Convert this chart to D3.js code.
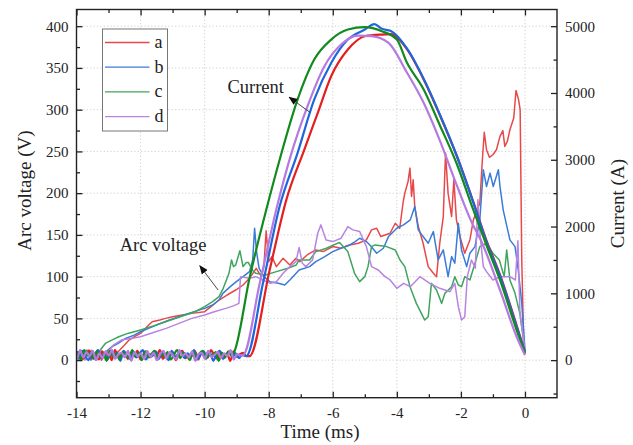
<!DOCTYPE html>
<html>
<head>
<meta charset="utf-8">
<script src="https://cdn.jsdelivr.net/npm/d3@7"></script>
<style>
  body { margin: 0; background: #fff; }
  text { font-family: "Liberation Serif", "Times New Roman", serif; fill: #222; }
</style>
</head>
<body>
<script>
'use strict';

// series names used in the legend
const seriesNames = ["a", "b", "c", "d"];
const voltColors = ["#e8484a", "#3a7bd8", "#3fa45e", "#b884e2"];
const currColors = ["#e51f1f", "#1f66dc", "#138a1f", "#b57ae0"];

// pre-arc noise, sampled every 0.1 ms from each start time (read as a band ~0-12 V / 0-150 A)
const voltBaseStart = [-14.015, -14.045, -14.075, -14.035];
const voltBase = [
  [3, 9, 1, 8, 12, 2, 7, 10, 0, 6, 11, 4, 9],
  [8, 2, 11, 4, 9, 0, 7, 12, 3],
  [5, 10, 1, 8, 12, 3, 9, 2],
  [10, 3, 9, 0, 7, 12, 2, 8, 11, 4]
];
const currBaseStart = [-14, -14.03, -14.06, -14.09];
const currBase = [
  [60,120,20,90,140,30,80,10,130,70,110,0,150,50,90,120,20,100,60,140,10,80,130,40,110,70,150,20,90,50,
   120,0,100,140,30,80,60,130,10,110,90,40,150,70,20,120,60,100,-10,130,50,90,110,60],
  [100,20,140,60,0,120,80,150,30,90,10,130,50,110,-10,140,70,20,120,40,100,150,10,90,60,130,20,110,70,0,
   140,50,90,120,30,100,60,150,10,80,130,40,110,-10,90,140,20,70,120,50,100,30,80],
  [40,120,0,150,70,110,20,130,50,90,-10,140,60,100,10,120,80,30,150,50,110,0,130,40,90,140,20,100,60,120,
   10,80,150,30,110,70,0,130,50,100,140,20,90,60,120,-10,110,40,130,70],
  [80,10,150,40,120,60,140,0,100,30,130,70,150,20,90,110,40,140,-10,120,60,100,20,130,50,110,0,90,140,30,
   120,70,10,150,60,100,40,130,-10,90,110,20,140,50,80,120,30,100,60,150,10,90,70]
];

// arc voltage after arc ignition [time ms, volts]
const voltA = [[-12.7,10],[-12.5,18],[-12.36,24],
  [-12.2,28],[-12,32],[-11.8,40],[-11.64,46],[-11.4,48],[-11.22,50],[-11,52],[-10.7,54],[-10.4,56],[-10,58],
  [-9.8,64],[-9.55,72],[-9.3,78],[-9.03,84],[-8.8,90],[-8.6,98],[-8.39,110],[-8.23,100],[-8.15,112],[-8.08,155],
  [-8,118],[-7.9,124],[-7.76,112],[-7.55,122],[-7.34,114],[-7.15,122],[-7.03,118],[-6.8,126],[-6.53,132],[-6.3,130],
  [-6,136],[-5.75,134],[-5.47,138],[-5.2,140],[-4.95,144],[-4.79,156],[-4.63,158],[-4.5,148],[-4.21,152],[-4.05,164],
  [-3.91,158],[-3.8,190],[-3.75,200],[-3.65,214],[-3.59,230],[-3.54,196],[-3.49,216],[-3.44,184],[-3.33,160],[-3.18,140],
  [-3.02,112],[-2.86,104],[-2.76,100],[-2.66,140],[-2.55,172],[-2.48,248],[-2.4,200],[-2.29,172],[-2.22,216],[-2.14,168],
  [-2.03,148],[-1.88,128],[-1.72,144],[-1.61,168],[-1.41,188],[-1.33,240],[-1.27,273],[-1.2,252],[-1.11,243],[-1,246],
  [-0.89,252],[-0.78,268],[-0.69,275],[-0.63,256],[-0.55,262],[-0.47,276],[-0.35,290],[-0.28,323],[-0.2,312],[-0.15,300],
  [-0.1,120],[-0.04,20],[0,8]];

const voltB = [[-13.15,8],[-12.9,16],[-12.7,20],[-12.47,26],[-12.2,30],
  [-12,34],[-11.75,38],[-11.5,42],[-11.1,48],[-10.8,52],[-10.5,56],[-10,62],[-9.75,66],[-9.55,72],[-9.43,80],
  [-9.2,88],[-9.01,94],[-8.8,100],[-8.6,106],[-8.5,120],[-8.44,158],[-8.38,130],[-8.3,110],[-8.15,100],[-7.97,94],
  [-7.7,92],[-7.5,90],[-7.34,96],[-7.05,108],[-6.72,112],[-6.53,118],[-6.25,124],[-6,130],[-5.75,134],[-5.47,138],
  [-5.3,142],[-5.16,146],[-4.95,142],[-4.8,136],[-4.63,128],[-4.42,134],[-4.26,148],[-4,158],[-3.79,162],[-3.58,168],
  [-3.44,184],[-3.33,156],[-3.18,148],[-3.02,140],[-2.86,154],[-2.71,120],[-2.55,132],[-2.4,100],[-2.29,124],[-2.19,116],
  [-2.08,164],[-1.98,132],[-1.82,112],[-1.72,128],[-1.56,136],[-1.41,168],[-1.3,228],[-1.2,208],[-1.09,224],[-0.99,208],
  [-0.83,228],[-0.78,208],[-0.68,180],[-0.47,144],[-0.31,136],[-0.21,108],[-0.1,68],[0,12]];

const voltC = [[-13.3,10],[-13.1,20],[-12.9,24],[-12.68,28],[-12.4,32],[-12,36],
  [-11.6,41],[-11.22,46],[-10.9,50],[-10.6,54],[-10.3,58],[-10,64],[-9.75,70],[-9.55,76],[-9.42,86],[-9.32,96],
  [-9.24,104],[-9.16,120],[-9.1,112],[-9.03,114],[-8.9,131],[-8.8,112],[-8.7,117],[-8.64,117],[-8.49,107],[-8.4,104],
  [-8.1,102],[-7.76,106],[-7.4,110],[-7.14,114],[-7.05,120],[-6.72,120],[-6.53,130],[-6.2,134],[-5.79,141],[-5.53,130],
  [-5.32,104],[-5.16,94],[-5,100],[-4.9,112],[-4.79,136],[-4.68,138],[-4.32,136],[-4.05,132],[-3.9,120],[-3.75,112],
  [-3.59,88],[-3.39,68],[-3.13,48],[-3.02,52],[-2.92,92],[-2.76,84],[-2.6,68],[-2.5,80],[-2.29,88],[-2.19,100],
  [-2.08,90],[-1.98,88],[-1.88,100],[-1.72,96],[-1.56,116],[-1.41,136],[-1.2,140],[-1,128],[-0.8,120],[-0.65,100],
  [-0.57,132],[-0.47,96],[-0.31,80],[-0.16,56],[-0.06,28],[0,8]];

const voltD = [[-13,10],[-12.85,18],[-12.6,24],[-12.3,26],[-12,28],
  [-11.6,33],[-11.2,38],[-10.8,44],[-10.4,50],[-10,54],[-9.7,58],[-9.34,62],[-9.1,65],[-8.93,68],[-8.88,100],
  [-8.6,98],[-8.4,100],[-8.18,96],[-7.95,92],[-7.76,94],[-7.55,104],[-7.34,112],[-7.15,118],[-7.05,135],[-6.95,116],
  [-6.84,112],[-6.63,120],[-6.47,152],[-6.37,162],[-6.21,144],[-6,142],[-5.74,146],[-5.53,160],[-5.37,156],[-5.16,154],
  [-4.95,136],[-4.79,112],[-4.58,108],[-4.37,100],[-4.21,96],[-4,86],[-3.79,92],[-3.58,88],[-3.28,100],[-2.97,92],
  [-2.66,86],[-2.34,82],[-2.19,92],[-2.08,64],[-1.98,48],[-1.88,52],[-1.8,100],[-1.67,120],[-1.55,110],[-1.47,192],
  [-1.4,150],[-1.3,112],[-1.2,106],[-1,96],[-0.78,100],[-0.47,100],[-0.3,96],[-0.22,143],[-0.16,60],[-0.1,40],
  [-0.05,28],[0,8]];

// current after arc ignition [time ms, amps]
const currA = [[-8.6,60],[-7.97,1350],[-7.45,2400],
  [-6.89,3150],[-6.47,3700],[-6.05,4250],[-5.53,4650],[-5,4850],[-4.47,4875],[-4.2,4880],[-3.69,4660],[-3.17,4210],[-2.65,3660],
  [-2.13,3060],[-1.62,2380],[-1.2,1790],[-0.78,1280],[-0.26,520],[0,120]];

const currB = [[-8.7,60],[-8.18,1150],[-7.66,2300],
  [-7.1,3100],[-6.58,3900],[-6.05,4450],[-5.53,4800],[-5,4950],[-4.7,5030],[-4.47,4960],[-4.2,4930],[-3.69,4670],[-3.17,4220],
  [-2.65,3670],[-2.13,3060],[-1.62,2370],[-1.2,1770],[-0.78,1260],[-0.26,500],[0,120]];

const currC = [[-9.1,100],[-8.59,1250],[-8.05,2300],[-7.63,3050],[-7.1,3900],
  [-6.58,4500],[-6.05,4800],[-5.53,4950],[-5,4985],[-4.47,4925],[-4,4800],[-3.69,4460],[-3.17,4060],[-2.65,3510],[-2.13,2940],
  [-1.62,2260],[-1.2,1720],[-0.78,1200],[-0.26,450],[0,100]];

const currD = [[-8.8,75],[-8.28,1150],[-7.74,2300],[-7.32,3050],
  [-6.79,3800],[-6.26,4400],[-5.74,4725],[-5.21,4860],[-4.79,4850],[-4.26,4750],[-3.69,4310],[-3.17,3860],[-2.65,3280],
  [-2.13,2620],[-1.62,2020],[-1.41,1830],[-0.78,1050],[-0.26,350],[0,75]];

// axis ticks
const timeTicks = [-14, -12, -10, -8, -6, -4, -2, 0];
const timeMinor = [-13, -11, -9, -7, -5, -3, -1];
const voltTicks = [0, 50, 100, 150, 200, 250, 300, 350, 400];
const voltMinor = [-25, 25, 75, 125, 175, 225, 275, 325, 375];
const currTicks = [0, 1000, 2000, 3000, 4000, 5000];
const currMinor = [-500, 500, 1500, 2500, 3500, 4500];

// annotations: text anchor and arrow [from, to] in data units (time, volts)
const annotations = [
  { text: "Current", at: [-9.29, 320], arrow: [[-6.72, 297], [-7.36, 315]] },
  { text: "Arc voltage", at: [-12.65, 131], arrow: [[-9.58, 84], [-10.15, 113]] }
];

// join the sampled noise band and the read trace
function withBase(start, values, trace) {
  const base = values.map((v, k) => [start + k * 0.1, v]);
  return base.concat(trace);
}

const voltSeries = [voltA, voltB, voltC, voltD].map((s, i) => withBase(voltBaseStart[i], voltBase[i], s));
const currSeries = [currA, currB, currC, currD].map((s, i) => withBase(currBaseStart[i], currBase[i], s));

const W = 633, H = 445;
const margin = { top: 9.5, right: 76, bottom: 47.3, left: 76.5 };
const width = W - margin.left - margin.right;
const height = H - margin.top - margin.bottom;
const serif = '"Liberation Serif", "Times New Roman", serif';

const svg = d3.select("body").append("svg")
  .attr("width", W)
  .attr("height", H);
const defs = svg.append("defs");

const g = svg.append("g")
  .attr("transform", `translate(${margin.left},${margin.top})`);

const x = d3.scaleLinear().domain([-14, 1]).range([0, width]);
const yV = d3.scaleLinear().domain([-45, 420]).range([height, 0]);
const yI = d3.scaleLinear().domain([-562.5, 5250]).range([height, 0]);

// dotted grid
const grid = g.append("g");
grid.selectAll(".gx").data(timeTicks.filter(d => d > -14))
  .enter().append("line")
  .attr("x1", d => x(d)).attr("x2", d => x(d))
  .attr("y1", 0).attr("y2", height)
  .attr("stroke", "#c4c4c4").attr("stroke-width", 0.8)
  .attr("stroke-dasharray", "1.2,2.2");
grid.selectAll(".gy").data(voltTicks)
  .enter().append("line")
  .attr("x1", 0).attr("x2", width)
  .attr("y1", d => yV(d)).attr("y2", d => yV(d))
  .attr("stroke", "#c4c4c4").attr("stroke-width", 0.8)
  .attr("stroke-dasharray", "1.2,2.2");

// data lines
defs.append("clipPath").attr("id", "plotclip")
  .append("rect").attr("width", width).attr("height", height);
const plot = g.append("g").attr("clip-path", "url(#plotclip)");

const vLine = d3.line().x(d => x(d[0])).y(d => yV(d[1]));
const iLine = d3.line().x(d => x(d[0])).y(d => yI(d[1])).curve(d3.curveMonotoneX);

voltSeries.forEach((s, i) => {
  plot.append("path")
    .datum(s)
    .attr("d", vLine)
    .attr("fill", "none")
    .attr("stroke", voltColors[i])
    .attr("stroke-width", 1.5)
    .attr("stroke-linejoin", "round");
});

currSeries.forEach((s, i) => {
  plot.append("path")
    .datum(s)
    .attr("d", iLine)
    .attr("fill", "none")
    .attr("stroke", currColors[i])
    .attr("stroke-width", 2.2)
    .attr("stroke-linejoin", "round");
});

// axes, ticks pointing inward
function styleAxis(sel) {
  sel.attr("font-family", serif).attr("font-size", 15);
  sel.select(".domain").remove();
  sel.selectAll("line").attr("stroke", "#222").attr("stroke-width", 1.3);
  sel.selectAll("text")
    .attr("font-family", serif)
    .style("font-family", serif)
    .style("font-size", "15px")
    .attr("fill", "#222");
}
const plain = d => String(d);

g.append("g").attr("transform", `translate(0,${height})`)
  .call(d3.axisBottom(x).tickValues(timeTicks).tickSizeInner(-6).tickSizeOuter(0).tickPadding(10).tickFormat(plain))
  .call(styleAxis);
g.append("g").attr("transform", `translate(0,${height})`)
  .call(d3.axisBottom(x).tickValues(timeMinor).tickSizeInner(-3.5).tickSizeOuter(0).tickFormat(""))
  .call(styleAxis);
g.append("g")
  .call(d3.axisTop(x).tickValues(timeTicks).tickSizeInner(-6).tickSizeOuter(0).tickFormat(""))
  .call(styleAxis);
g.append("g")
  .call(d3.axisTop(x).tickValues(timeMinor).tickSizeInner(-3.5).tickSizeOuter(0).tickFormat(""))
  .call(styleAxis);

g.append("g")
  .call(d3.axisLeft(yV).tickValues(voltTicks).tickSizeInner(-6).tickSizeOuter(0).tickPadding(8).tickFormat(plain))
  .call(styleAxis);
g.append("g")
  .call(d3.axisLeft(yV).tickValues(voltMinor).tickSizeInner(-3.5).tickSizeOuter(0).tickFormat(""))
  .call(styleAxis);

g.append("g").attr("transform", `translate(${width},0)`)
  .call(d3.axisRight(yI).tickValues(currTicks).tickSizeInner(-6).tickSizeOuter(0).tickPadding(8).tickFormat(plain))
  .call(styleAxis);
g.append("g").attr("transform", `translate(${width},0)`)
  .call(d3.axisRight(yI).tickValues(currMinor).tickSizeInner(-3.5).tickSizeOuter(0).tickFormat(""))
  .call(styleAxis);

// frame
g.append("rect")
  .attr("width", width).attr("height", height)
  .attr("fill", "none").attr("stroke", "#222").attr("stroke-width", 1.4);

// axis titles
svg.append("text")
  .attr("x", 320)
  .attr("y", 438)
  .attr("text-anchor", "middle")
  .style("font-size", "19px")
  .text("Time (ms)");

svg.append("text")
  .attr("transform", `translate(31,${margin.top + height / 2 - 13})rotate(-90)`)
  .attr("text-anchor", "middle")
  .style("font-size", "19px")
  .text("Arc voltage (V)");

svg.append("text")
  .attr("transform", `translate(624,${margin.top + height / 2})rotate(-90)`)
  .attr("text-anchor", "middle")
  .style("font-size", "19px")
  .text("Current (A)");

// legend
const legend = svg.append("g").attr("transform", "translate(102.5,29)");
legend.append("rect")
  .attr("width", 65).attr("height", 102)
  .attr("fill", "#fff").attr("stroke", "#777").attr("stroke-width", 1);
seriesNames.forEach((name, i) => {
  const ly = 13.5 + i * 24.7;
  legend.append("line")
    .attr("x1", 2.5).attr("x2", 47)
    .attr("y1", ly).attr("y2", ly)
    .attr("stroke", voltColors[i]).attr("stroke-width", 1.3);
  legend.append("text")
    .attr("x", 52).attr("y", ly + 5.5)
    .style("font-size", "18px")
    .text(name);
});

// annotations with arrows
defs.append("marker")
  .attr("id", "arrowhead")
  .attr("viewBox", "0 0 10 10")
  .attr("refX", 9).attr("refY", 5)
  .attr("markerWidth", 9).attr("markerHeight", 9)
  .attr("markerUnits", "userSpaceOnUse")
  .attr("orient", "auto")
  .append("path")
  .attr("d", "M0,1 L10,5 L0,9 Z")
  .attr("fill", "#111");

annotations.forEach(a => {
  g.append("text")
    .attr("x", x(a.at[0]))
    .attr("y", yV(a.at[1]))
    .style("font-size", "18.5px")
    .text(a.text);
  g.append("line")
    .attr("x1", x(a.arrow[0][0])).attr("y1", yV(a.arrow[0][1]))
    .attr("x2", x(a.arrow[1][0])).attr("y2", yV(a.arrow[1][1]))
    .attr("stroke", "#333").attr("stroke-width", 0.9)
    .attr("marker-end", "url(#arrowhead)");
});
</script>
</body>
</html>
